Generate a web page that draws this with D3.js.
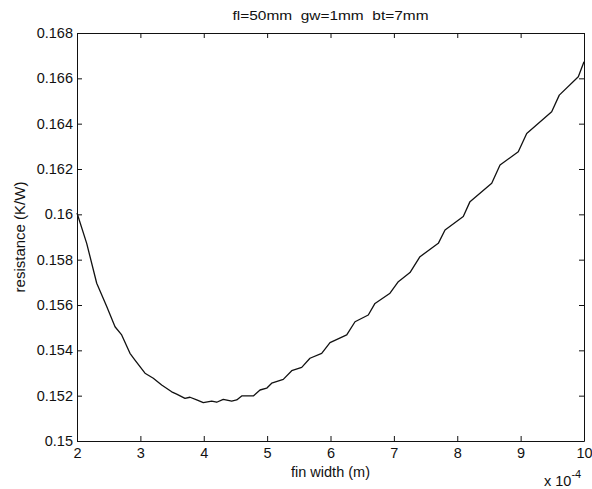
<!DOCTYPE html>
<html>
<head>
<meta charset="utf-8">
<script src="https://cdn.jsdelivr.net/npm/d3@7"></script>
<style>
  html, body { margin: 0; padding: 0; background: #fff; }
  svg { display: block; }
  text { font-family: "Liberation Sans", Arial, Helvetica, sans-serif; fill: #111; }
</style>
</head>
<body>
<svg id="chart" width="592" height="489"></svg>
<script>
// ---- data (fin width in units of 1e-4 m, resistance in K/W) ----
const finWidth = [2.000, 2.153, 2.311, 2.469, 2.600, 2.705, 2.836, 2.915, 3.073, 3.204,
  3.336, 3.494, 3.573, 3.704, 3.783, 3.889, 3.993, 4.125, 4.204, 4.308,
  4.441, 4.520, 4.599, 4.782, 4.888, 4.993, 5.072, 5.255, 5.388, 5.546,
  5.676, 5.861, 5.992, 6.256, 6.387, 6.596, 6.702, 6.939, 7.070, 7.254,
  7.412, 7.701, 7.807, 8.095, 8.201, 8.544, 8.675, 8.963, 9.096, 9.490,
  9.610, 9.910, 10.000];
const resistance = [0.16006, 0.15872, 0.15696, 0.15593, 0.15504, 0.15468, 0.15387, 0.15357, 0.15299, 0.15277,
  0.15247, 0.15217, 0.15207, 0.15188, 0.15193, 0.15181, 0.15169, 0.15176, 0.15171, 0.15184,
  0.15176, 0.15181, 0.15199, 0.15199, 0.15225, 0.15233, 0.15255, 0.15272, 0.15310, 0.15325,
  0.15365, 0.15387, 0.15434, 0.15468, 0.15526, 0.15556, 0.15607, 0.15652, 0.15703, 0.15743,
  0.15813, 0.15872, 0.15931, 0.15990, 0.16056, 0.16137, 0.16218, 0.16276, 0.16357, 0.16453,
  0.16526, 0.16607, 0.16673];
const xTicks = [2, 3, 4, 5, 6, 7, 8, 9, 10];
const xTickLabels = ["2", "3", "4", "5", "6", "7", "8", "9", "10"];
const yTicks = [0.150, 0.152, 0.154, 0.156, 0.158, 0.160, 0.162, 0.164, 0.166, 0.168];
const yTickLabels = ["0.15", "0.152", "0.154", "0.156", "0.158", "0.16", "0.162", "0.164", "0.166", "0.168"];
const titleText = "fl=50mm  gw=1mm  bt=7mm";
const xLabel = "fin width (m)";
const yLabel = "resistance (K/W)";

// ---- layout ----
const plot = { left: 77, right: 584, top: 33, bottom: 441 };
const svg = d3.select("#chart");

const x = d3.scaleLinear().domain([2, 10]).range([plot.left, plot.right]);
const y = d3.scaleLinear().domain([0.15, 0.168]).range([plot.bottom, plot.top]);

const tickLen = 5;

// bottom axis with labels
svg.append("g")
  .attr("transform", `translate(0,${plot.bottom})`)
  .call(d3.axisBottom(x).tickValues(xTicks).tickSize(-tickLen).tickSizeOuter(0)
    .tickPadding(7).tickFormat((d, i) => xTickLabels[i]))
  .call(g => g.selectAll("text").attr("font-size", 14.5));

// left axis with labels
svg.append("g")
  .attr("transform", `translate(${plot.left},0)`)
  .call(d3.axisLeft(y).tickValues(yTicks).tickSize(-tickLen).tickSizeOuter(0)
    .tickPadding(4).tickFormat((d, i) => yTickLabels[i]))
  .call(g => g.selectAll("text").attr("font-size", 14.5));

// top and right axes: ticks only
svg.append("g")
  .attr("transform", `translate(0,${plot.top})`)
  .call(d3.axisTop(x).tickValues(xTicks).tickSize(-tickLen).tickSizeOuter(0).tickFormat(""));
svg.append("g")
  .attr("transform", `translate(${plot.right},0)`)
  .call(d3.axisRight(y).tickValues(yTicks).tickSize(-tickLen).tickSizeOuter(0).tickFormat(""));

svg.selectAll(".domain, .tick line").attr("stroke", "#111").attr("stroke-width", 1);
svg.selectAll(".tick text").attr("fill", "#111");

// curve
const pts = finWidth.map((d, i) => [d, resistance[i]]);
svg.append("path")
  .datum(pts)
  .attr("fill", "none")
  .attr("stroke", "#111")
  .attr("stroke-width", 1.3)
  .attr("stroke-linejoin", "round")
  .attr("d", d3.line().x(d => x(d[0])).y(d => y(d[1])));

// title
svg.append("text")
  .attr("x", (plot.left + plot.right) / 2)
  .attr("y", 20)
  .attr("text-anchor", "middle")
  .attr("font-size", 12)
  .attr("textLength", 196)
  .attr("lengthAdjust", "spacingAndGlyphs")
  .style("white-space", "pre")
  .text(titleText);

// x label
svg.append("text")
  .attr("x", (plot.left + plot.right) / 2)
  .attr("y", 477)
  .attr("text-anchor", "middle")
  .attr("font-size", 14.5)
  .text(xLabel);

// y label
svg.append("text")
  .attr("transform", `translate(25,${(plot.top + plot.bottom) / 2}) rotate(-90)`)
  .attr("text-anchor", "middle")
  .attr("font-size", 15)
  .text(yLabel);

// exponent
const ex = svg.append("text")
  .attr("x", 544)
  .attr("y", 486)
  .attr("font-size", 14.5);
ex.append("tspan").text("x 10");
ex.append("tspan").attr("dy", -8).attr("font-size", 11).text("-4");
</script>
</body>
</html>
